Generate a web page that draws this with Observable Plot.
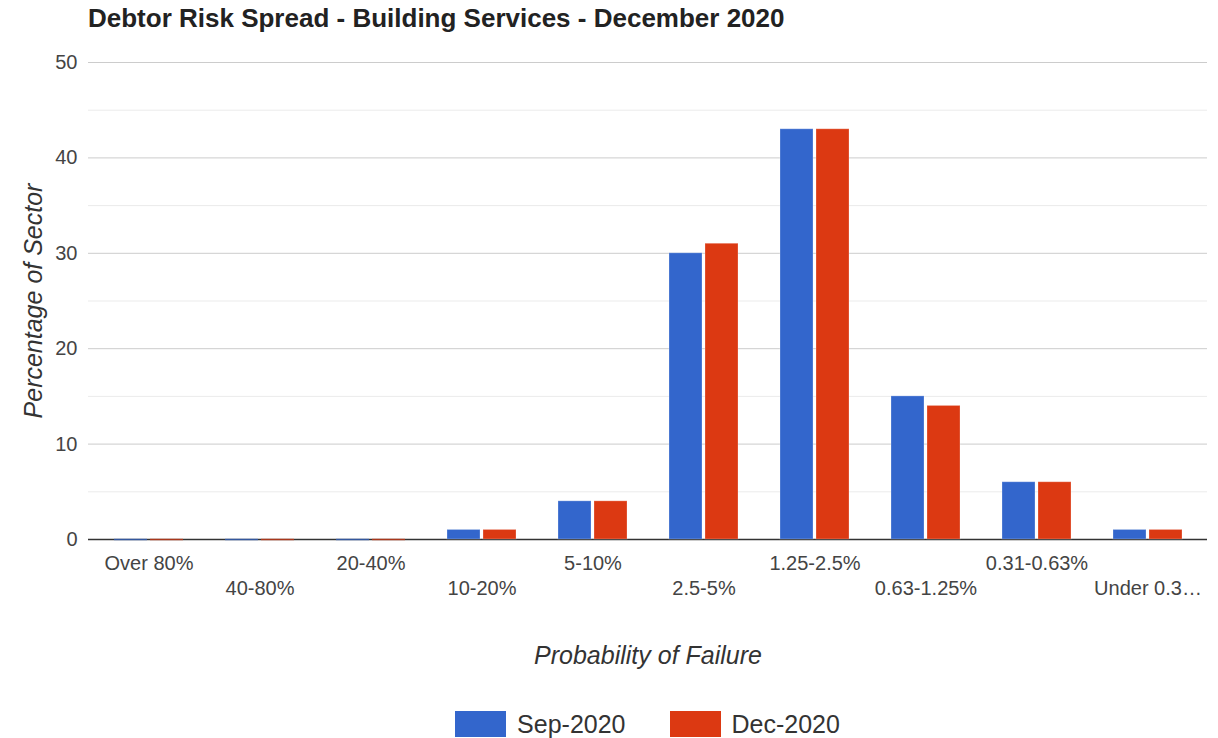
<!DOCTYPE html>
<html>
<head>
<meta charset="utf-8">
<script src="https://cdn.jsdelivr.net/npm/d3@7"></script>
<script src="https://cdn.jsdelivr.net/npm/@observablehq/plot@0.6"></script>
<style>
  html, body { margin: 0; padding: 0; background: #fff; }
  body { font-family: "Liberation Sans", Arial, sans-serif; }
  #wrap { position: relative; width: 1218px; height: 738px; overflow: hidden; }
  #title { position: absolute; left: 88px; top: 3px; font-size: 26px; font-weight: bold; color: #222; white-space: nowrap; }
  #chart { position: absolute; left: 0; top: 0; }
  #legend { position: absolute; left: 88px; width: 1119px; top: 711px; height: 26px; display: flex; justify-content: center; align-items: center; font-size: 25px; color: #333; }
  .item { display: flex; align-items: center; }
  .sw { width: 51px; height: 26px; margin-right: 11px; }
  .item + .item { margin-left: 44px; }
</style>
</head>
<body>
<div id="wrap">
  <div id="chart"></div>
  <div id="title"></div>
  <div id="legend"></div>
</div>
<script>
const titleText = "Debtor Risk Spread - Building Services - December 2020";
const categories = ["Over 80%", "40-80%", "20-40%", "10-20%", "5-10%", "2.5-5%", "1.25-2.5%", "0.63-1.25%", "0.31-0.63%", "Under 0.31%"];
const tickLabels = ["Over 80%", "40-80%", "20-40%", "10-20%", "5-10%", "2.5-5%", "1.25-2.5%", "0.63-1.25%", "0.31-0.63%", "Under 0.3\u2026"];
const seriesNames = ["Sep-2020", "Dec-2020"];
const sepValues = [0, 0, 0, 1, 4, 30, 43, 15, 6, 1];
const decValues = [0, 0, 0, 1, 4, 31, 43, 14, 6, 1];
const seriesColors = ["#3366cc", "#dc3912"];
const yMajorTicks = [0, 10, 20, 30, 40, 50];
const yMinorTicks = [5, 15, 25, 35, 45];
const xTitle = "Probability of Failure";
const yTitle = "Percentage of Sector";

const seriesValues = [sepValues, decValues];
const rows = [];
seriesNames.forEach((s, si) => {
  categories.forEach((c, ci) => rows.push({category: c, series: s, value: seriesValues[si][ci]}));
});
const labelOf = new Map(categories.map((c, i) => [c, tickLabels[i]]));

const font = "'Liberation Sans', Arial, sans-serif";
// insets position each series within its category band
const insets = [
  {insetLeft: 21, insetRight: 57},
  {insetLeft: 57, insetRight: 21}
];

const marks = [
  Plot.ruleY(yMinorTicks, {stroke: "#ebebeb", strokeWidth: 1}),
  Plot.ruleY(yMajorTicks.filter(d => d !== 0), {stroke: "#cccccc", strokeWidth: 1}),
  Plot.ruleY([0], {stroke: "#333333", strokeWidth: 1.5})
];
seriesNames.forEach((s, si) => {
  marks.push(Plot.barY(rows, {
    filter: d => d.series === s && d.value > 0,
    x: "category", y: "value", fill: "series",
    stroke: "white", strokeOpacity: 0.25, strokeWidth: 1,
    ...insets[si]
  }));
  marks.push(Plot.tickY(rows, {
    filter: d => d.series === s && d.value === 0,
    x: "category", y: "value", stroke: "series", strokeWidth: 1.5, strokeOpacity: 0.7,
    ...insets[si]
  }));
});
marks.push(
  Plot.axisY({ticks: yMajorTicks, tickSize: 0, tickPadding: 11, fontSize: 20, label: null, fill: "#444"}),
  Plot.axisX({ticks: categories.filter((d, i) => i % 2 === 0), tickSize: 0, tickPadding: 16, fontSize: 20, label: null, tickFormat: d => labelOf.get(d), fill: "#444"}),
  Plot.axisX({ticks: categories.filter((d, i) => i % 2 === 1), tickSize: 0, tickPadding: 41, fontSize: 20, label: null, tickFormat: d => labelOf.get(d), fill: "#444"}),
  Plot.text([yTitle], {frameAnchor: "left", dx: -55, rotate: -90, textAnchor: "middle", lineAnchor: "middle", fontSize: 25, fontStyle: "italic", fill: "#333"}),
  Plot.text([xTitle], {frameAnchor: "bottom", dy: 116, textAnchor: "middle", lineAnchor: "middle", fontSize: 25, fontStyle: "italic", fill: "#333"})
);

const chart = Plot.plot({
  width: 1218,
  height: 700,
  marginTop: 62,
  marginBottom: 161,
  marginLeft: 88,
  marginRight: 11,
  style: {fontFamily: font, background: "white", color: "#444"},
  x: {domain: categories, padding: 0, axis: null},
  y: {domain: [0, 50], axis: null},
  color: {domain: seriesNames, range: seriesColors},
  marks
});
document.getElementById("chart").appendChild(chart);
document.getElementById("title").textContent = titleText;

const legend = document.getElementById("legend");
seriesNames.forEach((s, i) => {
  const item = document.createElement("div");
  item.className = "item";
  const sw = document.createElement("div");
  sw.className = "sw";
  sw.style.background = seriesColors[i];
  const t = document.createElement("span");
  t.textContent = s;
  item.appendChild(sw);
  item.appendChild(t);
  legend.appendChild(item);
});
</script>
</body>
</html>
